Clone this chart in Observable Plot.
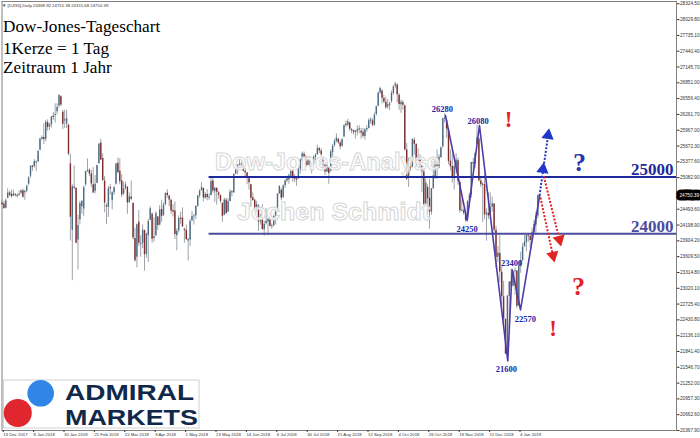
<!DOCTYPE html>
<html><head><meta charset="utf-8">
<script src="https://cdn.jsdelivr.net/npm/d3@7"></script>
<script src="https://cdn.jsdelivr.net/npm/@observablehq/plot@0.6"></script>
<style>
body{margin:0;background:#fff;}
#wrap{position:relative;width:700px;height:438px;overflow:hidden;}
#wrap svg{position:absolute;left:0;top:0;}
</style></head><body>
<div id="wrap"></div>
<script>
// Daily candles, bar index 0 = 13 Dec 2017 ... 282 = 18 Jan 2019
const opens = [
24600,24590,24510,24700,24800,24770,24740,24770,24740,24750,
24790,24840,24800,24830,24960,25110,25290,25290,25350,25380,
25600,25800,25830,25800,26110,26030,26070,26220,26250,26310,
26420,26590,26300,26150,26080,26060,25340,24100,24900,24880,
23920,24300,24540,24500,24950,25200,25220,25150,24950,24830,
24980,25340,25730,25440,25020,24560,24530,24890,24650,24800,
24960,25350,25200,25020,24780,24880,24900,24620,24720,24600,
23950,23600,24250,23840,23860,24100,23650,24000,24290,24400,
23950,24000,24350,24200,24490,24380,24580,24790,24740,24660,
24460,24460,24000,24090,24320,24330,24120,24100,23900,23920,
24280,24360,24370,24550,24740,24840,24880,24700,24770,24710,
24750,25020,24820,24880,24800,24750,24600,24380,24660,24440,
24640,24820,24800,25150,25230,25320,25330,25320,25200,25170,
25060,24950,24710,24660,24470,24550,24260,24300,24110,24230,
24260,24330,24175,24190,24350,24470,24780,24850,24710,24930,
25020,25040,25110,25200,25060,25050,25060,25240,25400,25520,
25440,25310,25420,25330,25340,25460,25510,25620,25580,25440,
25320,25190,25260,25200,25550,25680,25760,25800,25730,25670,
25840,26070,26060,26100,25970,25960,25920,25940,25970,25950,
25930,25850,25970,26000,26140,26140,26060,26260,26420,26660,
26700,26560,26490,26400,26430,26500,26650,26790,26810,26620,
26440,26480,26420,25600,25090,25350,25280,25780,25700,25390,
25450,25300,25190,24580,24900,24700,24440,24880,25100,25380,
25260,25460,25660,26180,26150,25980,25390,25290,25060,25290,
25400,24990,24460,24460,24410,24300,24640,24760,25360,25340,
25700,25800,25020,24950,24950,24390,24420,24380,24530,24590,
24100,23600,23670,23320,22860,22440,21800,22870,23140,23060,
23330,23340,22690,23430,23530,23790,23870,24000,23990,23910,
24070,24200,24369];
const highs = [
24670,24640,24690,24876,24830,24850,24850,24790,24780,24830,
24850,24870,24850,24940,25100,25300,25310,25420,25400,25580,
25810,25860,26090,26150,26160,26090,26220,26300,26460,26460,
26620,26610,26340,26340,26340,26080,25520,24950,25300,24900,
24380,24640,24660,24930,25200,25430,25250,25220,25270,25120,
25310,25710,25800,25530,25100,24600,24920,24950,24820,24920,
25350,25450,25440,25140,25000,25000,24920,24800,25020,24620,
24140,24220,24470,24000,24200,24100,24050,24300,24540,24430,
24330,24450,24360,24560,24660,24610,24800,24860,24750,24680,
24580,24630,24130,24370,24440,24520,24140,24200,23960,24300,
24450,24400,24560,24750,24860,24990,24890,24800,24860,24780,
25090,25080,24900,24900,24830,24760,24620,24700,24700,24690,
24860,24840,25150,25330,25320,25400,25380,25390,25250,25180,
25080,24960,24800,24680,24640,24580,24400,24580,24270,24510,
24320,24420,24220,24380,24500,24780,24930,24880,24950,25040,
25110,25150,25240,25220,25140,25090,25330,25430,25560,25560,
25500,25470,25480,25360,25490,25530,25690,25650,25620,25460,
25380,25350,25270,25600,25700,25800,25900,25810,25770,25810,
26070,26140,26170,26120,26000,25970,25960,26050,26050,26000,
26000,26000,26050,26180,26200,26180,26290,26420,26680,26770,
26720,26620,26580,26540,26490,26700,26800,26860,26830,26650,
26530,26520,26440,25720,25450,25450,25800,25830,25720,25620,
25510,25310,25250,25060,24950,25050,24880,25300,25410,25600,
25510,25660,26190,26280,26160,26000,25600,25520,25330,25530,
25450,25000,24680,24500,24460,24650,24790,25370,25440,25540,
26060,25830,25100,24990,25150,24500,24800,24800,24720,24600,
24180,23800,24000,23420,23150,22450,22880,23140,23380,23340,
23400,23350,23520,23690,23860,24000,24010,24010,24000,24140,
24290,24440,24751];
const lows = [
24570,24490,24500,24690,24730,24700,24730,24720,24700,24740,
24770,24700,24660,24800,24930,25070,25200,25260,25200,25360,
25580,25780,25700,25750,25950,25960,26010,26150,26100,26250,
26380,26410,25980,26000,26000,25490,23900,23160,24850,23850,
23360,24200,24400,24360,24920,25180,25100,24900,24790,24780,
24970,25340,25400,25010,24430,24210,24340,24760,24480,24750,
24940,25150,24950,24710,24750,24850,24400,24600,24650,23920,
23510,23400,23800,23600,23760,23340,23580,23500,24280,23860,
23880,23990,24100,24180,24250,24360,24560,24700,24540,24400,
24350,23930,23720,24050,24210,24160,23860,23920,23530,23800,
24260,24200,24300,24530,24700,24830,24630,24680,24650,24660,
24740,24790,24620,24570,24680,24600,24250,24370,24390,24430,
24630,24720,24790,25140,25140,25300,25280,25190,25080,24950,
24850,24530,24640,24410,24460,24080,24200,24100,23990,24200,
24000,24160,24120,24160,24200,24460,24770,24650,24700,24880,
24990,24960,25100,25000,24990,24920,25050,25150,25380,25390,
25270,25300,25280,25150,25320,25400,25500,25530,25480,25220,
25120,25180,24960,25190,25470,25650,25730,25700,25600,25650,
25830,26020,26030,25940,25900,25880,25800,25860,25900,25800,
25820,25780,25930,25990,26080,26030,26040,26230,26400,26640,
26460,26460,26360,26360,26330,26470,26620,26740,26480,26340,
26280,26340,25580,25030,24900,25200,25270,25500,25300,25340,
25250,24800,24560,24550,24400,24120,24380,24860,25050,25050,
25250,25440,25630,26100,25820,25320,25210,24980,24850,25150,
24940,24420,24450,24380,24250,24290,24520,24700,25220,25250,
25700,25000,24900,24250,24300,23900,24300,24370,24440,24030,
23390,23500,23130,22700,22380,21790,21670,22270,22970,23050,
22890,22640,22680,23300,23530,23790,23700,23880,23770,23900,
24060,24020,24316];
const closes = [
24585,24509,24652,24792,24755,24727,24782,24754,24746,24774,
24838,24719,24824,24923,25075,25296,25283,25386,25369,25575,
25803,25830,25793,26116,26018,26072,26215,26211,26252,26393,
26617,26439,26077,26149,26187,25521,24346,24913,24893,23860,
24191,24601,24640,24893,25200,25219,25150,24965,24798,24962,
25310,25709,25410,25029,24609,24538,24875,24884,24801,24895,
25336,25179,25007,24758,24874,24947,24611,24727,24682,23958,
23533,24203,23858,23848,24103,23644,24033,24264,24505,23933,
23979,24408,24189,24483,24360,24573,24787,24748,24665,24463,
24449,24024,24084,24322,24311,24163,24099,23925,23930,24263,
24357,24360,24543,24740,24831,24899,24706,24769,24714,24715,
25013,24834,24887,24812,24753,24640,24361,24668,24416,24635,
24814,24800,25146,25241,25317,25322,25321,25201,25175,25090,
24987,24700,24658,24462,24581,24253,24283,24118,24216,24271,
24307,24175,24180,24357,24456,24777,24920,24700,24925,25019,
25064,25120,25199,25065,25058,25044,25242,25414,25527,25451,
25307,25415,25334,25326,25463,25502,25629,25584,25509,25313,
25188,25300,25162,25559,25669,25759,25822,25734,25657,25790,
26050,26064,26125,25987,25965,25930,25952,25975,25996,25917,
25857,25971,25999,26146,26155,26062,26247,26406,26657,26744,
26562,26492,26385,26440,26458,26651,26774,26828,26627,26447,
26487,26431,25599,25053,25340,25251,25798,25707,25379,25444,
25317,25191,24583,24985,24688,24443,24875,25116,25381,25271,
25462,25635,26180,26191,25989,25387,25286,25081,25289,25413,
25017,24466,24465,24420,24286,24640,24749,25366,25339,25538,
25826,25027,24950,24948,24389,24423,24370,24527,24597,24101,
23593,23676,23324,22860,22445,21792,22878,23139,23062,23327,
23346,22686,23433,23531,23787,23879,24002,23996,23910,24066,
24207,24370,24750];

// axis labels
const xTickIdx = [0,16,32,48,64,80,96,112,128,144,160,176,192,208,224,240,256,272];
const xLabels = ["13 Dec 2017","8 Jan 2018","30 Jan 2018","21 Feb 2018","15 Mar 2018","9 Apr 2018","1 May 2018","23 May 2018","14 Jun 2018","6 Jul 2018","30 Jul 2018","21 Aug 2018","12 Sep 2018","4 Oct 2018","26 Oct 2018","19 Nov 2018","11 Dec 2018","4 Jan 2019"];
const yTicks = [28324.50,28029.80,27735.10,27440.40,27145.70,26851.00,26556.40,26261.70,25967.00,25672.30,25377.60,25082.90,24493.60,24198.90,23904.20,23609.50,23314.80,23020.10,22725.40,22430.80,22136.10,21841.40,21546.70,21252.00,20957.30,20662.60,20367.90];
const lastPrice = 24750.39;
const header = "▼ [DJI30],Daily  24368.92 24751.38 24315.68 24750.39";

// annotations
const levelValues = [25094, 24035];
const levelNames = ["25000", "24000"];
const levelLabelY = [25225, 24180];
const levelColors = ["#1d2a9c", "#4c4ca0"];
const zigX = [233.4, 244.8, 251.3, 266.2, 268.5, 272.9, 283.0];
const zigY = [26241, 24283, 26055, 21666, 23364, 22618, 24749];
const pointNames = ["26280","26080","24250","23400","22570","21600"];
const pointX = [231.8, 250.6, 244.8, 268.2, 275.5, 265.5];
const pointY = [26352, 26135, 24121, 23487, 22437, 21505];
const signText = ["!", "?", "?", "!"];
const signX = [266.6, 303.9, 303.4, 290.1];
const signY = [26167, 25365, 23052, 22270];
const signColor = ["#e3202a", "#2a34b0", "#e3202a", "#e3202a"];
const signSize = [23, 26, 26, 23];
// dotted arrows: start, end, head centre, head rotation
const arrowX1 = [282.9, 283.4, 285.2];
const arrowY1 = [24749, 24712, 25104];
const arrowX2 = [287.8, 290.4, 293.9];
const arrowY2 = [25962, 23556, 23855];
const arrowColor = ["#2236c8", "#e02424", "#e02424"];
const headX = [284.7, 287.4, 290.0, 293.4];
const headY = [25237, 25871, 23631, 23929];
const headRot = [8, 8.6, 167.8, 166.4];
const headColor = ["#2236c8", "#2236c8", "#e02424", "#e02424"];

const bull = "#4c6c84", bear = "#7e2c2c", wick = "#9ea3a8";
const bars = opens.map((o, i) => ({i, o, h: highs[i], l: lows[i], c: closes[i]}));
const levels = levelValues.map((v, k) => ({v, name: levelNames[k], ly: levelLabelY[k], color: levelColors[k]}));
const zig = zigX.map((x, k) => ({x, y: zigY[k]}));
const points = pointNames.map((t, k) => ({t, x: pointX[k], y: pointY[k]}));
const signs = signText.map((t, k) => ({t, x: signX[k], y: signY[k], color: signColor[k], size: signSize[k]}));
const arrows = arrowX1.map((x1, k) => ({x1, y1: arrowY1[k], x2: arrowX2[k], y2: arrowY2[k], color: arrowColor[k]}));
const heads = headX.map((x, k) => ({x, y: headY[k], r: headRot[k], color: headColor[k]}));

const chart = Plot.plot({
  width: 700, height: 438,
  marginLeft: 1.5, marginRight: 24, marginTop: 1, marginBottom: 8,
  x: {domain: [0, 355], axis: null},
  y: {domain: [20367.9, 28367.4], axis: null},
  style: {background: "transparent", fontFamily: "'Liberation Sans', Arial, sans-serif", color: "#333"},
  marks: [
    Plot.frame({stroke: "#808080"}),
    Plot.axisY(yTicks, {anchor: "right", tickSize: 2.5, tickPadding: 1, fontSize: 4.7, tickFormat: d => d.toFixed(2)}),
    Plot.axisX(xTickIdx, {anchor: "bottom", tickSize: 2, tickPadding: 0.5, fontSize: 4.3, textAnchor: "start", dx: 1.2, tickFormat: d => xLabels[xTickIdx.indexOf(d)]}),
    Plot.ruleX(bars, {x: "i", y1: "l", y2: "h", stroke: wick, strokeWidth: 1}),
    Plot.ruleX(bars, {x: "i",
      y1: d => Math.min(d.o, d.c) - (Math.abs(d.o - d.c) < 16 ? 8 : 0),
      y2: d => Math.max(d.o, d.c) + (Math.abs(d.o - d.c) < 16 ? 8 : 0),
      stroke: d => d.c >= d.o ? bull : bear, strokeWidth: 1.4}),
    Plot.ruleY(levels, {y: "v", x1: 109, x2: 355, stroke: "color", strokeWidth: 2}),
    Plot.text(levels, {x: 353.4, y: "ly", text: "name", textAnchor: "end", fill: "color", fontSize: 17, fontWeight: "bold", fontFamily: "'Liberation Serif', 'Times New Roman', serif"}),
    Plot.line(zig, {x: "x", y: "y", stroke: "#4e3ca6", strokeWidth: 1.6}),
    Plot.link(arrows, {x1: "x1", y1: "y1", x2: "x2", y2: "y2", stroke: "color", strokeWidth: 2, strokeDasharray: "2,1.6"}),
    Plot.dot(heads, {x: "x", y: "y", symbol: "triangle", r: 4.6, fill: "color", rotate: "r"}),
    Plot.text(points, {x: "x", y: "y", text: "t", fill: "#2424a8", fontSize: 8.5, fontWeight: "bold", fontFamily: "'Liberation Serif', 'Times New Roman', serif"}),
    Plot.text(signs, {x: "x", y: "y", text: "t", fill: "color", fontSize: "size", fontWeight: "bold", fontFamily: "'Liberation Serif', 'Times New Roman', serif"}),
    // current price box on the right axis
    Plot.text([lastPrice], {x: 355, y: d => d, text: d => d.toFixed(2), textAnchor: "start", dx: 3, fontSize: 4.7, fill: "white", stroke: "black", strokeWidth: 7, paintOrder: "stroke"})
  ]
});
document.getElementById("wrap").appendChild(chart);

// overlay: titles, watermark, header, logo
const svg = d3.select("#wrap").append("svg").attr("width", 700).attr("height", 438).style("pointer-events", "none");
svg.append("text").attr("x", 2).attr("y", 7).attr("font-size", 4.3).attr("fill", "#333")
  .attr("font-family", "'Liberation Sans', Arial, sans-serif").text(header);
const titles = ["Dow-Jones-Tageschart", "1Kerze = 1 Tag", "Zeitraum 1 Jahr"];
const titleY = [32, 53.5, 73];
titles.forEach((t, k) => svg.append("text").attr("x", 3).attr("y", titleY[k]).attr("font-size", 17.2)
  .attr("font-family", "'Liberation Serif', 'Times New Roman', serif").attr("fill", "#000").text(t));
const wm = [["Dow-Jones-Analyse", 215, 170, 225], ["Jochen Schmidt", 237, 220, 193]];
wm.forEach(([t, x, y, len]) => svg.append("text").attr("x", x).attr("y", y).attr("font-size", 24.5)
  .attr("font-weight", "bold").attr("font-family", "'Liberation Sans', Arial, sans-serif")
  .attr("textLength", len).attr("lengthAdjust", "spacingAndGlyphs")
  .attr("fill", "white").attr("fill-opacity", 0.8).attr("stroke", "#d6d6d6").attr("stroke-width", 1).text(t));
const logo = svg.append("g");
logo.append("rect").attr("x", 3.5).attr("y", 380).attr("width", 195.5).attr("height", 48).attr("fill", "white").attr("stroke", "#d0d0d0");
logo.append("circle").attr("cx", 40.7).attr("cy", 393.3).attr("r", 13.3).attr("fill", "#2f86e6");
logo.append("circle").attr("cx", 17.8).attr("cy", 413).attr("r", 14).attr("fill", "#e0262e");
const logoWords = ["ADMIRAL", "MARKETS"];
const logoY = [399.5, 424.5];
const logoLen = [129, 133];
logoWords.forEach((t, k) => logo.append("text").attr("x", 65).attr("y", logoY[k]).attr("font-size", 21.8)
  .attr("font-weight", "bold").attr("font-family", "'Liberation Sans', Arial, sans-serif").attr("fill", "#12284a")
  .attr("textLength", logoLen[k]).attr("lengthAdjust", "spacingAndGlyphs").text(t));
</script>
</body></html>
